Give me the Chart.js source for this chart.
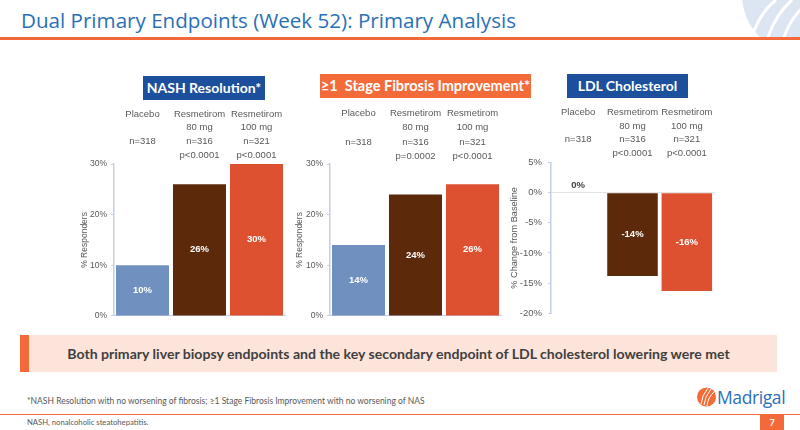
<!DOCTYPE html>
<html lang="en-US">

<head>
	<meta charset="utf-8">
	<title>Dual Primary Endpoints (Week 52): Primary Analysis</title>
	<script src="https://cdn.jsdelivr.net/npm/chart.js@4"></script>
	<style>
		html, body { margin: 0; padding: 0; background: #fff; }
		#slide { position: relative; width: 800px; height: 430px; overflow: hidden; font-family: Lato, sans-serif; }
		#slide > * { position: absolute; }
		#title { left: 21px; top: 6px; font: 20.6px "Open Sans", sans-serif; color: #2a70b8; white-space: nowrap; }
		#topline { left: 0; top: 37px; width: 800px; height: 3px; background: #f4693a; }
		.head { color: #fff; font-weight: bold; font-size: 14px; text-align: center; line-height: 24px; height: 24px; white-space: nowrap; }
		canvas { position: absolute; }
		#banner { left: 20px; top: 335px; width: 757px; height: 37px; background: #fde4da; color: #3f3f3f; font-weight: bold; font-size: 14.1px; line-height: 37px; text-align: center; }
		#strip { left: 20px; top: 335px; width: 9px; height: 37px; background: #f4693a; }
		#note { left: 27px; top: 396px; font-size: 8.5px; color: #595959; white-space: nowrap; }
		#botline { left: 0; top: 414px; width: 800px; height: 1px; background: #f4693a; }
		#abbr { left: 27px; top: 417px; font-size: 7.7px; color: #595959; white-space: nowrap; }
		#page { left: 760px; top: 415px; width: 24px; height: 15px; background: #f4693a; color: #fff; font-size: 9px; font-weight: bold; line-height: 15px; text-align: center; }
		#brand { left: 717px; top: 385px; font: 17.5px "Open Sans", sans-serif; color: #2d6fb8; letter-spacing: -0.4px; }
	</style>
</head>

<body>
<div id="slide">
	<svg style="left:730px;top:0" width="70" height="37">
		<circle cx="70" cy="-5" r="58" fill="#dce6f2"/>
		<g fill="none" stroke="#fff" stroke-width="3">
			<path d="M22 37 Q30 12 46 0"/>
			<path d="M38 37 Q46 14 62 0"/>
			<path d="M54 37 Q60 20 72 8"/>
		</g>
	</svg>
	<div id="title">Dual Primary Endpoints (Week 52): Primary Analysis</div>
	<div id="topline"></div>

	<div class="head" style="left:143px;top:76px;width:122px;background:#1c4f9c">NASH Resolution*</div>
	<div class="head" style="left:320px;top:74px;width:211px;background:#f26b38;font-size:14.5px">≥1&nbsp; Stage Fibrosis Improvement*</div>
	<div class="head" style="left:567px;top:74px;width:121px;background:#1c4f9c">LDL Cholesterol</div>

	<canvas id="nash"></canvas>
	<canvas id="fibrosis"></canvas>
	<canvas id="ldl"></canvas>

	<div id="banner">Both primary liver biopsy endpoints and the key secondary endpoint of LDL cholesterol lowering were met</div>
	<div id="strip"></div>
	<div id="note">*NASH Resolution with no worsening of fibrosis; ≥1 Stage Fibrosis Improvement with no worsening of NAS</div>
	<svg style="left:696px;top:386px" width="21" height="22" viewBox="0 0 21 22">
		<circle cx="10.5" cy="11" r="9.5" fill="#f26b38"/>
		<g fill="none" stroke="#fff" stroke-width="1">
			<path d="M5 18 Q6 9 12 2"/>
			<path d="M8 19 Q9 10 15 3"/>
			<path d="M11 20 Q12 11 18 6"/>
		</g>
	</svg>
	<div id="brand">Madrigal</div>
	<div id="botline"></div>
	<div id="abbr">NASH, nonalcoholic steatohepatitis.</div>
	<div id="page">7</div>
</div>

<script>
	const arms = ['Placebo', 'Resmetirom', 'Resmetirom'];
	const doses = ['', '80 mg', '100 mg'];
	const counts = ['n=318', 'n=316', 'n=321'];
	const nashP = ['', 'p<0.0001', 'p<0.0001'];
	const fibrosisP = ['', 'p=0.0002', 'p<0.0001'];
	const ldlP = ['', 'p<0.0001', 'p<0.0001'];

	const nashValues = [10, 26, 30];
	const fibrosisValues = [14, 24, 26];
	const ldlValues = [0, -13.8, -16.3];

	const nashLabels = ['10%', '26%', '30%'];
	const fibrosisLabels = ['14%', '24%', '26%'];
	const ldlLabels = ['0%', '-14%', '-16%'];

	const barColors = ['#7090bf', '#5c2a0b', '#dd5131'];
	const axisColor = '#c5cde8';
	const tickColor = '#595959';
	const font = 'Liberation Sans';

	// header columns and bar value labels, both placed from the chart's scales
	const slideText = {
		id: 'slideText',
		afterDatasetsDraw(chart, args, opts) {
			const ctx = chart.ctx;
			const x = chart.scales.x;
			ctx.save();
			ctx.textAlign = 'center';
			ctx.textBaseline = 'middle';
			ctx.font = '9.5px "' + font + '"';
			ctx.fillStyle = tickColor;
			opts.header.forEach((lines, col) => {
				lines.forEach((line, row) => {
					ctx.fillText(line, x.getPixelForValue(col), opts.headerY + row * opts.headerStep);
				});
			});
			ctx.font = 'bold 9.5px "' + font + '"';
			chart.getDatasetMeta(0).data.forEach((bar, i) => {
				if (opts.values[i] === 0) {
					ctx.fillStyle = '#404040';
					ctx.fillText(opts.labels[i], bar.x, bar.y - 7);
				} else {
					ctx.fillStyle = '#fff';
					ctx.fillText(opts.labels[i], bar.x, (bar.y + bar.base) / 2);
				}
			});
			ctx.restore();
		}
	};

	function drawPanel(id, box, values, labels, pValues, yAxis) {
		const canvas = document.getElementById(id);
		canvas.style.left = box.left + 'px';
		canvas.style.top = box.top + 'px';
		canvas.style.width = box.width + 'px';
		canvas.style.height = box.height + 'px';
		canvas.width = box.width;
		canvas.height = box.height;

		const header = arms.map((arm, i) => [arm, doses[i], counts[i], pValues[i]]);

		new Chart(canvas, {
			type: 'bar',
			plugins: [slideText],
			data: {
				labels: arms,
				datasets: [{
					data: values,
					backgroundColor: barColors,
					categoryPercentage: 1,
					barPercentage: box.barPercentage,
				}]
			},
			options: {
				responsive: false,
				animation: false,
				layout: { padding: { top: box.plotTop, right: box.right, bottom: box.bottom, left: 0 } },
				plugins: {
					legend: { display: false },
					tooltip: { enabled: false },
					slideText: { header: header, headerY: box.headerY, headerStep: box.headerStep, values: values, labels: labels },
				},
				scales: {
					x: {
						position: yAxis.zeroLine ? { y: 0 } : 'bottom',
						ticks: { display: false },
						grid: { display: false },
						border: { color: yAxis.zeroLine ? '#e3e3e3' : axisColor },
						afterFit(scale) { scale.height = 0; },
					},
					y: {
						min: yAxis.min,
						max: yAxis.max,
						ticks: {
							stepSize: yAxis.step,
							padding: box.tickPad,
							color: tickColor,
							font: { family: font, size: box.tickSize },
							callback: (v) => v + '%',
						},
						grid: { drawOnChartArea: false, tickLength: 3, color: axisColor },
						border: { color: axisColor, width: 1.5 },
						title: {
							display: true,
							text: yAxis.title,
							color: tickColor,
							font: { family: font, size: box.titleSize },
							padding: { top: box.titlePad, bottom: 0 },
						},
						afterFit(scale) { scale.width = box.axisWidth; },
					}
				}
			}
		});
	}

	const percentAxis = { min: 0, max: 30, step: 10, title: '% Responders' };
	const changeAxis = { min: -20, max: 5, step: 5, title: '% Change from Baseline', zeroLine: true };

	drawPanel('nash', { left: 70, top: 105, width: 220, height: 220, axisWidth: 44, plotTop: 59, right: 5, bottom: 8, barPercentage: 0.93, headerY: 9, headerStep: 13.8, tickPad: 4, titlePad: 10, tickSize: 8.5, titleSize: 8.5 },
		nashValues, nashLabels, nashP, percentAxis);
	drawPanel('fibrosis', { left: 286, top: 105, width: 220, height: 220, axisWidth: 44, plotTop: 59, right: 5, bottom: 6.5, barPercentage: 0.93, headerY: 8.5, headerStep: 14.2, tickPad: 4, titlePad: 9, tickSize: 8.5, titleSize: 8.5 },
		fibrosisValues, fibrosisLabels, fibrosisP, percentAxis);
	drawPanel('ldl', { left: 507, top: 105, width: 212, height: 220, axisWidth: 44, plotTop: 57.5, right: 5, bottom: 10, barPercentage: 0.93, headerY: 7, headerStep: 13.9, tickPad: 6, titlePad: 2, tickSize: 9.5, titleSize: 9.2 },
		ldlValues, ldlLabels, ldlP, changeAxis);
</script>
</body>

</html>
